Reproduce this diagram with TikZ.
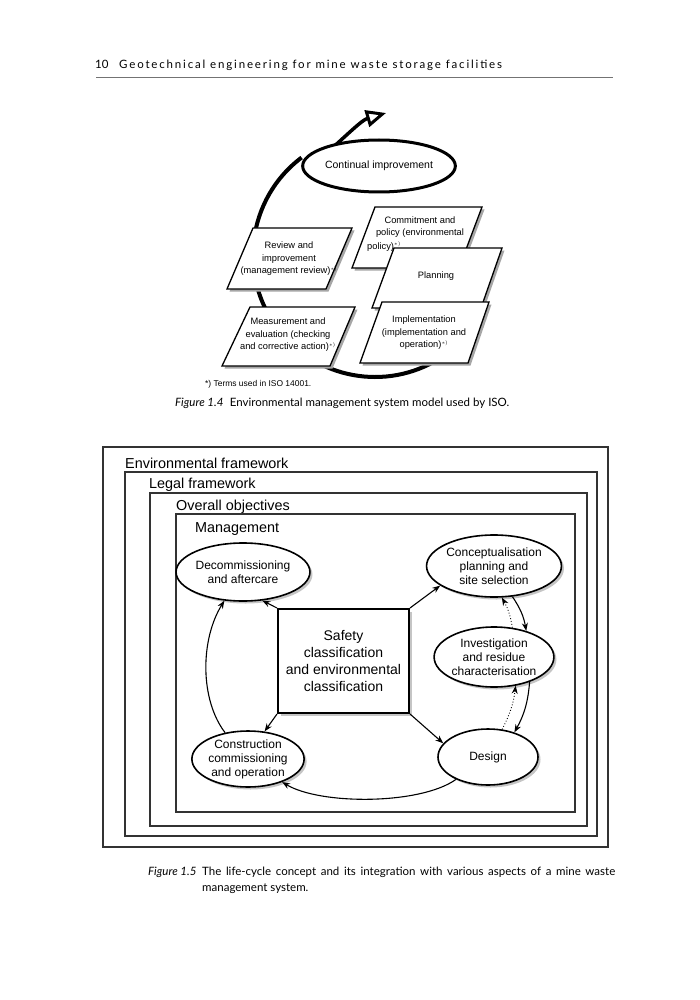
\documentclass[tikz,border=0pt]{standalone}
\usepackage{fontspec}
\setmainfont{Liberation Sans}
\newfontfamily\gill{Lato}
\newfontfamily\gillsp[LetterSpace=16]{Lato}
\usetikzlibrary{arrows.meta,shadows,shapes.geometric}
\tikzset{
  para/.style={draw=black, line width=1.3pt, fill=white, line join=miter},
  parashadow/.style={fill=black!35, draw=none},
  ptext/.style={align=center, inner sep=0pt, font=\fontsize{9.3}{12.5}\selectfont},
  frame/.style={draw=black!80, line width=1.8pt},
  flabel/.style={anchor=base west, inner sep=0pt, font=\fontsize{14.4}{17}\selectfont},
  cyc/.style={ellipse, draw=black, line width=1.6pt, fill=white, inner sep=0pt, align=center,
     font=\fontsize{12}{14}\selectfont,
     drop shadow={shadow xshift=2.5pt, shadow yshift=-2.5pt, fill=black!45, opacity=0.5}},
  conn/.style={-{Stealth[length=8pt,width=6pt]}, line width=1.1pt},
  dconn/.style={-{Stealth[length=8pt,width=6pt]}, line width=0.9pt, dotted},
  captxt/.style={anchor=base west, inner sep=0pt, font=\gill\fontsize{11.5}{14}\selectfont},
  caplab/.style={anchor=base west, inner sep=0pt, font=\gill\itshape\fontsize{11.5}{14}\selectfont},
}
\begin{document}
\begin{tikzpicture}[x=1pt,y=-1pt]
\useasboundingbox (0,0) rectangle (700,1000);
\fill[white] (0,0) rectangle (700,1000);

% ---------- header ----------
\node[anchor=base west, inner sep=0pt, font=\gill\fontsize{11.5}{13}\selectfont] (pagenum) at (95,69) {10};
\node[anchor=base west, inner sep=0pt, font=\gillsp\fontsize{11.5}{13}\selectfont] (runhead) at (119,69) {Geotechnical engineering for mine waste storage facilities};
\draw[black!55, line width=0.9pt] (96,77) -- (613,77);

% ---------- Figure 1.4 ----------
% big cycle arc
\draw[line width=4pt] (375,255) ++(233:122) arc[start angle=233, end angle=58, radius=122];
% spiral arrow
\draw[line width=3.5pt, -{Triangle[open, length=20pt, width=17pt, line width=3pt]}]
  (330,150) .. controls (348,134) and (362,120) .. (386,113);
\node[ellipse, draw, line width=3pt, fill=white, minimum width=142pt, minimum height=52pt,
      inner sep=0pt, font=\fontsize{10.5}{12}\selectfont] (ci) at (379,166) {Continual improvement};

% Review and improvement
\fill[parashadow] (255.5,230.5) -- (354.5,230.5) -- (328.5,291.5) -- (229.5,291.5) -- cycle;
\draw[para] (253,228) -- (352,228) -- (326,289) -- (227,289) -- cycle;
\node[ptext] (review) at (289,259) {Review and\\improvement\\(management review)$^{\scriptscriptstyle *)}$};

% Measurement and evaluation
\fill[parashadow] (252.5,309.5) -- (357.5,309.5) -- (332.5,368.5) -- (224.5,368.5) -- cycle;
\draw[para] (250,307) -- (355,307) -- (330,366) -- (222,366) -- cycle;
\node[ptext] (measure) at (288,335) {Measurement and\\evaluation (checking\\and corrective action)$^{\scriptscriptstyle *)}$};

% Commitment and policy
\fill[parashadow] (377.5,209.5) -- (484.5,209.5) -- (461.5,270.5) -- (354.5,270.5) -- cycle;
\draw[para] (375,207) -- (482,207) -- (459,268) -- (352,268) -- cycle;
\node[ptext] (commit1) at (420,227) {Commitment and\\policy (environmental};
\node[ptext, anchor=base west] (commit2) at (367,249) {policy)$^{\scriptscriptstyle *)}$};

% Planning
\fill[parashadow] (396.5,250.5) -- (504.5,250.5) -- (483.5,310.5) -- (374.5,310.5) -- cycle;
\draw[para] (394,248) -- (502,248) -- (481,308) -- (372,308) -- cycle;
\node[ptext] (planning) at (436,276) {Planning};

% Implementation
\fill[parashadow] (384.5,304.5) -- (491.5,304.5) -- (470.5,365.5) -- (362.5,365.5) -- cycle;
\draw[para] (382,302) -- (489,302) -- (468,363) -- (360,363) -- cycle;
\node[ptext] (implement) at (424,333) {Implementation\\(implementation and\\operation)$^{\scriptscriptstyle *)}$};

\node[anchor=base west, inner sep=0pt, font=\fontsize{8.45}{10}\selectfont] (foot) at (205,386) {*) Terms used in ISO 14001.};

% caption 1.4
\node[caplab] (cap4a) at (175,406) {Figure 1.4};
\node[captxt] (cap4b) at ([xshift=6pt]cap4a.base east) {Environmental management system model used by ISO.};

% ---------- Figure 1.5 ----------
\draw[frame] (103,447) rectangle (608,847);
\draw[frame] (125,472) rectangle (597,836);
\draw[frame] (150,493) rectangle (587,826);
\draw[frame] (176,514) rectangle (575,812);
\node[flabel] (envfw) at (125,468) {Environmental framework};
\node[flabel] (legfw) at (149,488) {Legal framework};
\node[flabel] (objfw) at (176,510) {Overall objectives};
\node[flabel] (mgmt) at (195,532) {Management};

\node[draw=black, line width=2pt, fill=white, minimum width=131pt, minimum height=104pt, inner sep=0pt,
      align=center, font=\fontsize{14}{17}\selectfont,
      drop shadow={shadow xshift=3pt, shadow yshift=-3pt, fill=black!45, opacity=0.5}]
      (safety) at (343.5,661) {Safety\\classification\\and environmental\\classification};

\node[cyc, minimum width=100pt, minimum height=58pt] (decomm) at (243,572) {Decommissioning\\and aftercare};
\node[cyc, minimum width=114pt, minimum height=62pt] (concept) at (494,566) {Conceptualisation\\planning and\\site selection};
\node[cyc, minimum width=96pt, minimum height=60pt] (invest) at (494,657) {Investigation\\and residue\\characterisation};
\node[cyc, minimum width=100pt, minimum height=56pt] (design) at (488,757) {Design};
\node[cyc, minimum width=100pt, minimum height=56pt] (constr) at (248,759) {Construction\\commissioning\\and operation};

\draw[conn] (safety.north east) -- (concept.200);
\draw[conn] (safety.north west) -- (decomm.304);
\draw[conn] (safety.south west) -- (constr.59);
\draw[conn] (safety.south east) -- (design.163);
\draw[conn] (constr.131) .. controls (200,700) and (200,640) .. (decomm.237);
\draw[conn] (design.215) .. controls (420,805) and (320,805) .. (constr.326);
\draw[conn] (concept.301) to[bend left=12] (invest.39);
\draw[dconn] (invest.58) to[bend right=10] (concept.284);
\draw[conn] (invest.325) to[bend left=12] (design.43);
\draw[dconn] (design.63) to[bend right=10] (invest.307);

% caption 1.5
\node[caplab] (cap5a) at (148,875) {Figure 1.5};
\node[captxt] (cap5b) at (202,875) {\makebox[413pt][s]{The life-cycle concept and its integration with various aspects of a mine waste}};
\node[captxt] (cap5c) at (202,891) {management system.};
\end{tikzpicture}
\end{document}
